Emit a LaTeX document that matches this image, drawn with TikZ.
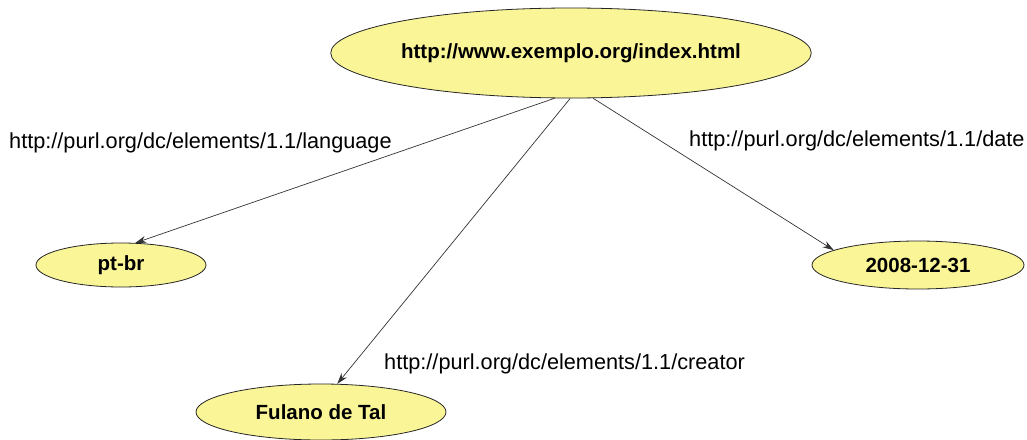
\documentclass[tikz,border=0pt]{standalone}
\usepackage{fontspec}
\setmainfont{Liberation Sans}
\usetikzlibrary{shapes.geometric,arrows.meta}
\definecolor{nodefill}{RGB}{250,245,150}
\tikzset{
  res/.style={ellipse, draw=black!85, line width=0.8pt, fill=nodefill, inner sep=0pt,
    font=\fontsize{20.5}{24}\selectfont\bfseries},
  prop/.style={draw=black!80, line width=0.7pt, -{Stealth[length=11pt,width=7pt]}},
  plabel/.style={font=\fontsize{21.7}{25}\selectfont, anchor=west, inner sep=0pt}
}
\begin{document}
\begin{tikzpicture}[x=1pt,y=-1pt]
  \useasboundingbox (0,0) rectangle (1027,439);
  \node[res, minimum width=402pt, minimum height=90pt] (page) at (571,53) {http://www.exemplo.org/index.html};
  \node[res, minimum width=170pt, minimum height=44pt] (lang) at (121,265) {pt-br};
  \node[res, minimum width=212pt, minimum height=48pt] (date) at (918,265) {2008-12-31};
  \node[res, minimum width=250pt, minimum height=56pt] (creator) at (321,412) {Fulano de Tal};
  \draw[prop] (page.-110) -- (lang.57);
  \draw[prop] (page.-91) -- (creator.60);
  \draw[prop] (page.-64) -- (date.170);
  \node[plabel] (llang) at (9,143) {http://purl.org/dc/elements/1.1/language};
  \node[plabel] (ldate) at (689,141) {http://purl.org/dc/elements/1.1/date};
  \node[plabel] (lcreator) at (384,364) {http://purl.org/dc/elements/1.1/creator};
\end{tikzpicture}
\end{document}
